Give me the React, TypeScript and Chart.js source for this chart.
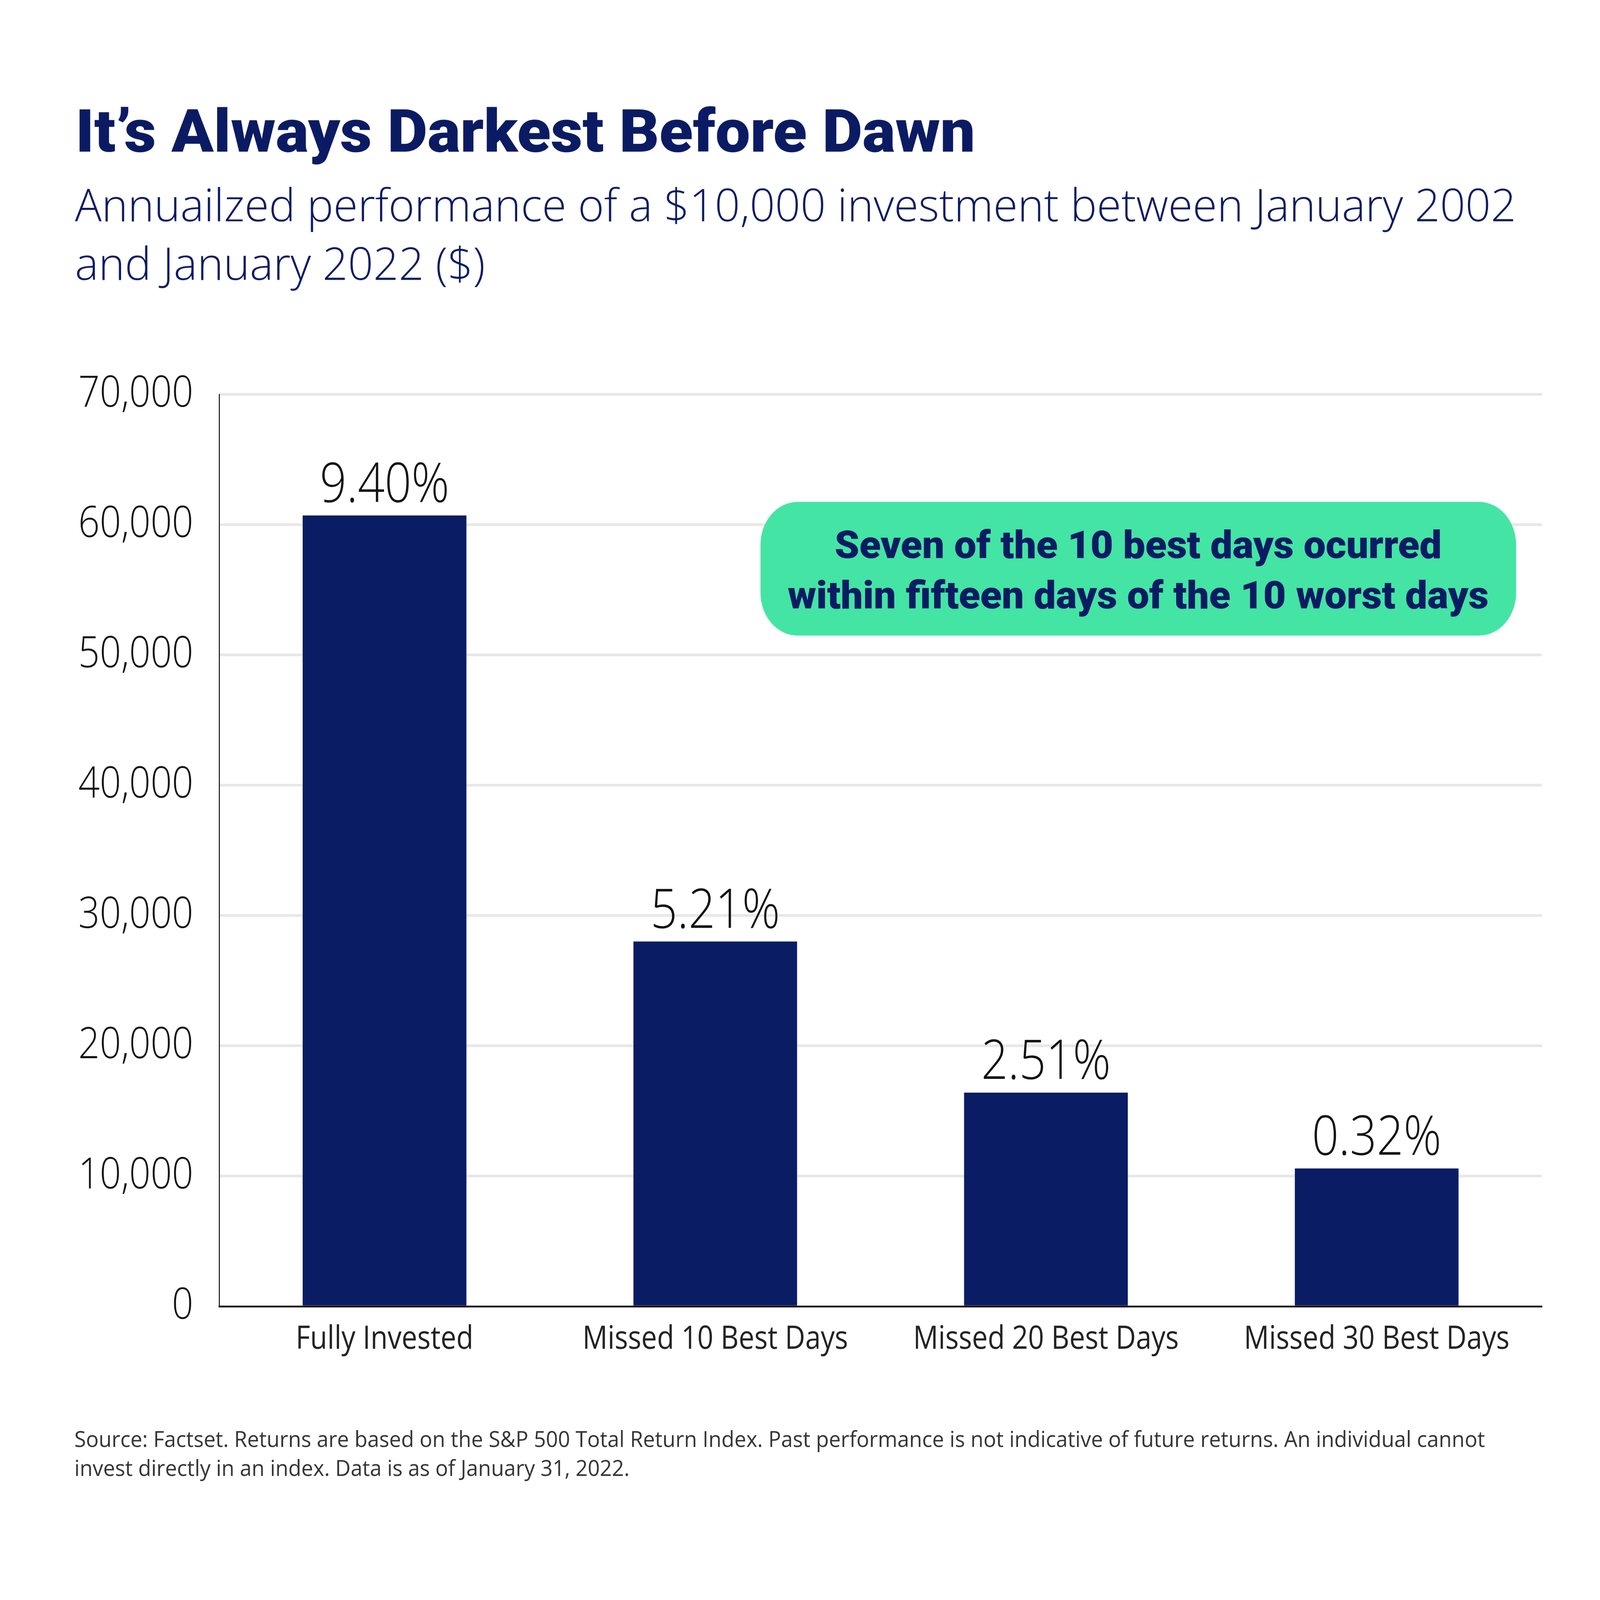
import React, { useEffect, useRef, useState } from "react";
import { Chart, registerables } from "chart.js";

Chart.register(...registerables);

const categories = ["Fully Invested", "Missed 10 Best Days", "Missed 20 Best Days", "Missed 30 Best Days"];
const values = [60700, 28000, 16400, 10580];
const returnLabels = ["9.40%", "5.21%", "2.51%", "0.32%"];
const yMax = 70000;
const yStep = 10000;

const titleText = "It’s Always Darkest Before Dawn";
const subtitleLines = [
  "Annuailzed performance of a $10,000 investment between January 2002",
  "and January 2022 ($)",
];
const calloutLines = ["Seven of the 10 best days ocurred", "within fifteen days of the 10 worst days"];
const footerLines = [
  "Source: Factset. Returns are based on the S&P 500 Total Return Index. Past performance is not indicative of future returns. An individual cannot",
  "invest directly in an index. Data is as of January 31, 2022.",
];

const W = 5380;
const H = 4642;
const NAVY = "#0b1b63";
const BAR = "#0a1c64";
const GREEN = "#44e4a4";
const TFAM = "Roboto, 'Noto Sans', sans-serif";
const SFAM = "'Open Sans', sans-serif";

function stretchFor(ctx: CanvasRenderingContext2D, text: string, target: number) {
  const m = ctx.measureText(text).width;
  return Math.max(0.75, Math.min(1.35, target / m));
}

function drawStretched(ctx: CanvasRenderingContext2D, text: string, x: number, y: number, sx: number) {
  ctx.save();
  ctx.translate(x, y);
  ctx.scale(sx, 1);
  ctx.fillText(text, 0, 0);
  ctx.restore();
}

const overlayPlugin = {
  id: "overlay",
  afterDraw(chart: any) {
    const ctx: CanvasRenderingContext2D = chart.ctx;
    ctx.save();
    ctx.textBaseline = "alphabetic";

    // Title
    ctx.font = `900 172px ${TFAM}`;
    ctx.fillStyle = NAVY;
    ctx.textAlign = "left";
    drawStretched(ctx, titleText, 254, 440, stretchFor(ctx, titleText, 3025));

    // Subtitle
    ctx.font = `300 131px ${SFAM}`;
    const ssx = stretchFor(ctx, subtitleLines[0], 4846);
    drawStretched(ctx, subtitleLines[0], 252, 642, ssx);
    drawStretched(ctx, subtitleLines[1], 252, 812, ssx);

    // Callout
    ctx.fillStyle = GREEN;
    ctx.beginPath();
    (ctx as any).roundRect(2557, 1456, 5098 - 2557, 1844 - 1456, 125);
    ctx.fill();
    ctx.fillStyle = NAVY;
    ctx.textAlign = "center";
    ctx.font = `900 112px ${TFAM}`;
    const csx = stretchFor(ctx, calloutLines[1], 2357);
    drawStretched(ctx, calloutLines[0], 3827, 1619, csx);
    drawStretched(ctx, calloutLines[1], 3827, 1765, csx);

    // Footer
    ctx.textAlign = "left";
    ctx.fillStyle = "#333333";
    ctx.font = `400 64px ${SFAM}`;
    const fsx = stretchFor(ctx, footerLines[0], 4743);
    drawStretched(ctx, footerLines[0], 250, 4198, fsx);
    drawStretched(ctx, footerLines[1], 250, 4282, fsx);
    ctx.restore();
  },
  afterDatasetsDraw(chart: any) {
    const ctx: CanvasRenderingContext2D = chart.ctx;
    const meta = chart.getDatasetMeta(0);
    ctx.save();
    ctx.font = `300 158px ${SFAM}`;
    ctx.fillStyle = "#111111";
    ctx.textAlign = "center";
    ctx.textBaseline = "alphabetic";
    meta.data.forEach((bar: any, i: number) => {
      ctx.fillText(returnLabels[i], bar.x, bar.y - 40);
    });
    ctx.restore();
  },
};

export default function App() {
  const ref = useRef<HTMLCanvasElement | null>(null);
  const [view] = useState(() => ({
    w: typeof window !== "undefined" ? window.innerWidth || W : W,
    h: typeof window !== "undefined" ? window.innerHeight || H : H,
  }));
  useEffect(() => {
    document.body.style.margin = "0";
    document.body.style.overflow = "hidden";
    const canvas = ref.current!;
    const chart = new Chart(canvas, {
      type: "bar",
      data: {
        labels: categories,
        datasets: [
          {
            data: values,
            backgroundColor: BAR,
            borderWidth: 0,
            barPercentage: 0.495,
            categoryPercentage: 1.0,
          },
        ],
      },
      options: {
        responsive: false,
        animation: false,
        devicePixelRatio: 1,
        layout: { padding: { left: 0, right: 195, top: 1144, bottom: 552 } },
        plugins: { legend: { display: false }, tooltip: { enabled: false } },
        scales: {
          x: {
            grid: { display: false, drawTicks: false },
            border: { display: true, color: "#000000", width: 5 },
            ticks: {
              color: "#222222",
              font: { family: SFAM, size: 94, weight: "400" as any },
              padding: 40,
              maxRotation: 0,
              autoSkip: false,
            },
            afterFit: (sc: any) => {
              sc.height = 300;
            },
          },
          y: {
            min: 0,
            max: yMax,
            grid: {
              color: (c: any) => (c.tick && c.tick.value === 0 ? "#000000" : "#e8e8e8"),
              lineWidth: (c: any) => (c.tick && c.tick.value === 0 ? 5 : 8),
              drawTicks: false,
            },
            border: { display: true, color: "#000000", width: 3 },
            ticks: {
              stepSize: yStep,
              color: "#111111",
              font: { family: SFAM, size: 126, weight: "300" as any },
              padding: 87,
              callback: (v: any) => Number(v).toLocaleString("en-US"),
            },
            afterFit: (sc: any) => {
              sc.width = 737;
            },
          },
        },
      },
      plugins: [overlayPlugin],
    });
    return () => chart.destroy();
  }, []);
  return (
    <div
      style={{
        position: "absolute",
        left: 0,
        top: 0,
        width: view.w,
        height: view.h,
        overflow: "hidden",
        background: "#ffffff",
      }}
    >
      <canvas ref={ref} width={W} height={H} style={{ display: "block", width: `${view.w}px`, height: `${view.h}px` }} />
    </div>
  );
}
